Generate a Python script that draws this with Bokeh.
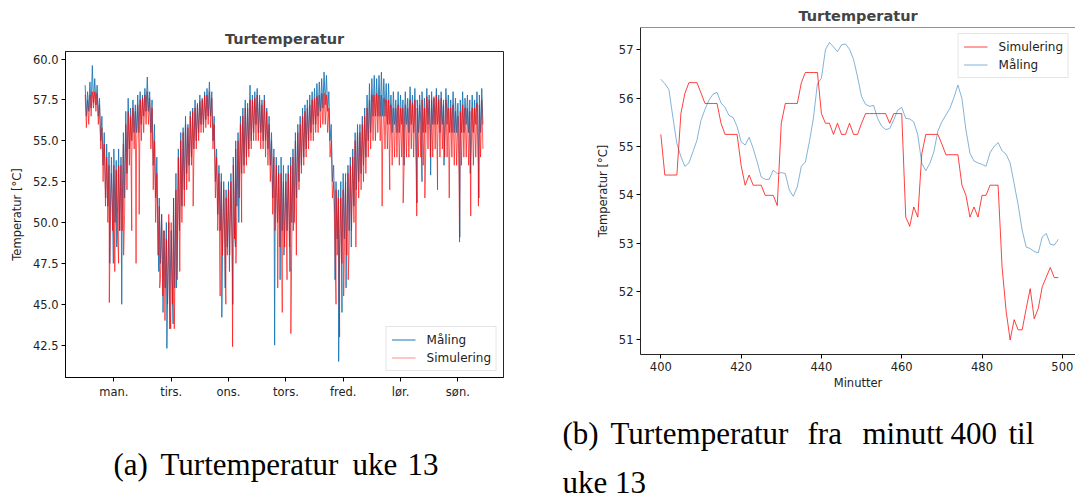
from bokeh.plotting import figure
from bokeh.layouts import column, row
from bokeh.models import Range1d, FixedTicker, Legend, LegendItem, PrintfTickFormatter, Span
from bokeh.core.properties import value
from bokeh.embed import file_html
from bokeh.resources import INLINE

FONT = "DejaVu Sans"
SERIF = "Liberation Serif"
BLUE = "#1f77b4"

# ---------------- (a) week 13: hourly upper / lower edge of the dense band, plus single spikes ----------------
day_ticks = [0.5, 1.5, 2.5, 3.5, 4.5, 5.5, 6.5]
day_labels = ["man.", "tirs.", "ons.", "tors.", "fred.", "lør.", "søn."]
ticks_a = [42.5, 45.0, 47.5, 50.0, 52.5, 55.0, 57.5, 60.0]

meas_hi = [
    58.4, 58.0, 58.6, 59.6, 58.8, 58.4, 57.6, 56.5, 55.5, 54.8, 54.3, 54.0, 54.5, 53.8, 54.5, 54.0, 55.5, 56.8, 57.6, 57.0, 57.5, 57.2, 57.8, 58.0,
    57.8, 58.2, 58.9, 58.0, 57.5, 56.0, 54.0, 51.5, 50.5, 49.5, 50.0, 50.0, 49.5, 51.5, 53.0, 54.5, 55.5, 55.8, 56.5, 56.0, 56.8, 57.0, 57.5, 57.2,
    57.8, 57.6, 58.0, 58.2, 58.6, 58.0, 56.5, 54.5, 53.5, 53.0, 52.5, 52.0, 52.5, 53.0, 54.0, 55.0, 55.5, 56.5, 57.0, 57.5, 57.3, 58.4, 57.8, 58.0,
    58.2, 57.8, 57.5, 57.8, 57.0, 56.5, 55.5, 54.5, 54.0, 53.5, 54.0, 53.5, 53.0, 53.5, 54.0, 54.5, 55.5, 56.0, 56.5, 57.0, 57.2, 57.5, 57.8, 58.0,
    58.2, 58.5, 58.6, 58.8, 59.2, 59.0, 58.0, 56.0, 53.5, 52.5, 52.0, 52.5, 53.0, 53.0, 53.5, 54.0, 54.5, 55.5, 56.0, 56.0, 56.5, 57.0, 57.8, 58.5,
    58.8, 59.0, 58.8, 59.0, 59.2, 58.8, 58.5, 58.5, 57.8, 58.0, 57.5, 58.0, 57.8, 57.5, 58.0, 57.6, 58.3, 57.8, 58.2, 57.5, 57.8, 58.0, 57.6, 58.2,
    57.8, 58.0, 57.6, 58.2, 57.8, 58.0, 57.5, 58.2, 57.8, 57.5, 58.0, 57.6, 57.3, 57.5, 58.0, 57.6, 57.8, 57.5, 57.8, 57.5, 58.0, 57.8, 58.2,
]
meas_lo = [
    56.5, 56.8, 57.0, 57.3, 57.2, 56.5, 55.0, 53.5, 52.0, 51.0, 50.5, 50.5, 50.0, 50.5, 50.5, 50.5, 51.5, 53.0, 54.5, 55.0, 55.5, 55.5, 55.5, 56.0,
    56.5, 56.8, 56.8, 55.5, 53.5, 51.5, 49.0, 47.5, 46.5, 46.0, 45.5, 45.5, 45.5, 46.0, 47.5, 49.5, 51.0, 52.0, 53.0, 53.5, 54.0, 54.5, 55.0, 55.5,
    56.0, 56.0, 56.3, 56.5, 56.5, 55.0, 52.5, 50.5, 49.5, 48.5, 48.5, 48.5, 49.0, 49.0, 49.5, 51.0, 52.0, 53.0, 53.5, 54.0, 54.5, 55.0, 55.5, 56.0,
    55.5, 55.5, 55.0, 55.0, 54.5, 53.5, 51.5, 50.5, 50.0, 49.5, 49.5, 49.5, 49.5, 49.5, 50.0, 50.5, 51.5, 52.5, 53.5, 54.0, 54.5, 55.0, 55.5, 56.0,
    56.0, 56.5, 56.8, 57.0, 57.2, 56.8, 55.0, 52.5, 50.0, 49.0, 48.5, 48.5, 49.0, 49.0, 49.5, 50.5, 51.0, 52.0, 52.5, 53.0, 53.5, 54.0, 55.0, 55.5,
    56.5, 56.5, 56.5, 56.5, 56.5, 56.5, 56.0, 56.0, 55.5, 56.0, 55.5, 55.5, 56.0, 55.5, 56.0, 55.5, 56.0, 55.5, 55.5, 55.5, 56.0, 55.5, 55.5, 56.0,
    55.5, 56.0, 56.0, 56.0, 55.5, 56.0, 55.5, 56.0, 55.5, 55.5, 55.5, 55.5, 55.0, 55.5, 55.5, 56.0, 55.5, 55.5, 55.5, 56.0, 55.5, 55.5, 56.0,
]
meas_spike_t = [8.6, 10.3, 11.8, 13.2, 14.4, 15.3,
                30.8, 32.6, 34.2, 35.4, 36.8, 38.2,
                57.2, 58.6, 60.4, 61.8, 62.9, 64.3,
                79.3, 81.6, 83.2, 85.7, 87.1,
                104.6, 106.1, 107.5, 109.2, 111.4,
                133.5, 138.9, 141.0, 144.6,
                150.2, 156.8, 161.2, 164.8]
meas_spike_v = [51.5, 47.5, 47.5, 48.5, 49.5, 45.0,
                47.0, 44.5, 42.3, 43.5, 43.8, 46.0,
                44.2, 46.0, 47.0, 45.0, 48.5, 50.0,
                42.5, 46.5, 48.0, 47.0, 49.5,
                46.5, 41.5, 44.5, 46.0, 48.5,
                53.5, 51.2, 52.5, 52.9,
                53.5, 49.1, 53.0, 51.5]

sim_hi = [
    57.8, 57.5, 57.8, 58.0, 58.0, 57.9, 57.2, 55.8, 54.8, 54.0, 53.5, 53.0, 53.5, 53.2, 53.5, 53.5, 54.8, 56.0, 56.8, 56.5, 57.0, 56.8, 57.2, 57.5,
    57.6, 57.8, 58.0, 57.6, 57.0, 55.0, 53.0, 51.0, 50.5, 49.5, 49.0, 50.5, 50.0, 51.5, 52.0, 54.0, 55.0, 55.5, 56.0, 55.8, 56.5, 56.8, 57.0, 57.3,
    57.4, 57.5, 57.8, 57.8, 58.0, 57.6, 56.0, 54.0, 53.0, 52.5, 52.0, 51.5, 52.0, 52.5, 53.5, 54.5, 55.0, 56.0, 56.5, 57.0, 57.0, 57.5, 57.5, 57.6,
    57.8, 57.5, 57.2, 57.5, 56.8, 56.0, 55.0, 54.0, 53.5, 53.0, 53.0, 52.5, 52.5, 53.0, 53.5, 54.0, 55.0, 55.5, 56.0, 56.5, 56.8, 57.0, 57.2, 57.5,
    57.6, 57.7, 57.8, 57.9, 57.9, 57.8, 57.0, 55.0, 52.5, 52.0, 51.5, 51.5, 52.0, 52.5, 53.0, 53.5, 54.0, 55.0, 55.5, 55.5, 56.0, 56.5, 57.0, 57.5,
    57.8, 57.8, 57.9, 57.8, 57.8, 57.6, 57.5, 57.5, 57.2, 57.0, 57.0, 57.2, 57.0, 57.0, 57.2, 57.0, 57.5, 57.3, 57.5, 57.0, 57.2, 57.5, 57.0, 57.7,
    57.5, 57.5, 57.7, 57.8, 57.5, 57.6, 57.2, 57.5, 57.0, 57.0, 57.2, 56.8, 56.5, 56.8, 57.2, 57.0, 57.0, 56.8, 57.0, 57.0, 57.3, 57.2, 57.5,
]
sim_lo = [
    55.8, 56.0, 56.5, 57.0, 56.8, 56.0, 54.5, 52.5, 51.0, 50.0, 49.5, 49.5, 49.0, 49.5, 49.5, 49.5, 50.5, 52.0, 53.5, 54.0, 54.5, 54.5, 54.5, 55.0,
    55.5, 56.0, 56.0, 54.5, 52.0, 50.0, 48.0, 46.5, 45.5, 45.0, 45.0, 45.0, 45.0, 45.5, 46.5, 48.5, 50.0, 51.0, 52.0, 52.5, 53.5, 54.0, 54.5, 55.0,
    55.5, 55.5, 55.8, 56.0, 55.8, 54.5, 51.5, 49.5, 48.5, 48.0, 48.0, 48.0, 48.0, 48.5, 49.0, 50.5, 51.5, 52.5, 53.0, 53.5, 54.0, 54.5, 55.0, 55.0,
    55.0, 54.5, 54.5, 54.0, 53.5, 52.5, 50.5, 49.5, 49.0, 48.5, 48.5, 48.5, 48.5, 48.5, 49.0, 50.0, 51.0, 52.0, 53.0, 53.5, 54.0, 54.5, 55.0, 55.0,
    55.5, 55.5, 55.8, 56.0, 56.0, 55.5, 54.0, 51.5, 49.0, 48.0, 47.5, 47.5, 48.0, 48.0, 48.5, 49.5, 50.0, 51.0, 51.5, 52.0, 52.5, 53.0, 54.0, 54.5,
    55.0, 55.0, 55.5, 55.0, 54.5, 54.5, 54.5, 54.0, 53.5, 54.0, 54.0, 53.5, 54.0, 53.5, 54.0, 54.0, 54.5, 54.0, 53.5, 54.0, 54.0, 53.5, 54.0, 54.5,
    54.0, 54.0, 54.5, 54.5, 54.0, 54.5, 54.0, 54.0, 53.5, 54.0, 53.5, 53.5, 53.0, 53.5, 54.0, 54.0, 53.5, 53.5, 53.5, 54.0, 53.5, 54.0, 54.5,
]
sim_spike_t = [10.1, 12.4, 14.0, 16.1, 19.5, 21.3, 22.6,
               31.2, 33.4, 35.8, 37.3, 39.6, 45.2,
               56.5, 58.9, 61.7, 63.1, 65.5,
               80.6, 82.5, 84.5, 86.1, 88.4,
               105.0, 106.5, 108.2, 110.1, 113.3,
               124.3, 127.5, 133.1, 138.8, 142.2,
               147.5, 152.4, 156.7, 161.4, 164.6]
sim_spike_v = [45.1, 47.0, 47.5, 48.0, 49.5, 47.5, 50.5,
               46.0, 44.0, 43.5, 43.5, 47.0, 51.0,
               45.5, 45.0, 42.4, 47.5, 50.0,
               46.0, 44.5, 46.5, 43.2, 48.0,
               45.0, 43.0, 45.5, 46.5, 48.5,
               51.0, 52.0, 51.2, 50.4, 51.5,
               52.0, 51.5, 48.8, 50.4, 51.0]

# ---------------- (b) minutes 400-499 ----------------
minutes = list(range(400, 500))
ticks_b_x = [400, 420, 440, 460, 480, 500]
ticks_b_y = [51, 52, 53, 54, 55, 56, 57]
sim_b = [
    55.25, 54.41, 54.41, 54.41, 54.41, 55.68, 56.10, 56.32, 56.32, 56.32,
    56.11, 55.89, 55.89, 55.89, 55.89, 55.48, 55.25, 55.25, 55.25, 55.25,
    54.61, 54.20, 54.41, 54.20, 54.20, 54.20, 53.99, 53.99, 53.99, 53.78,
    55.48, 55.89, 55.89, 55.89, 55.89, 56.32, 56.53, 56.53, 56.53, 56.53,
    55.68, 55.48, 55.48, 55.25, 55.48, 55.25, 55.25, 55.48, 55.25, 55.25,
    55.48, 55.68, 55.68, 55.68, 55.68, 55.68, 55.68, 55.48, 55.68, 55.68,
    55.68, 53.54, 53.35, 53.75, 53.54, 54.85, 55.25, 55.25, 55.25, 55.25,
    55.05, 54.83, 54.83, 54.83, 54.83, 54.20, 53.99, 53.54, 53.75, 53.54,
    53.99, 53.99, 54.20, 54.20, 54.20, 52.50, 51.60, 51.00, 51.42, 51.21,
    51.21, 51.65, 52.06, 51.44, 51.65, 52.10, 52.30, 52.50, 52.29, 52.29,
]
meas_b = [
    56.39, 56.30, 56.18, 55.61, 55.06, 54.79, 54.59, 54.66, 54.89, 55.13,
    55.54, 55.77, 55.96, 56.08, 56.12, 55.90, 55.81, 55.64, 55.60, 55.41,
    55.10, 55.03, 55.19, 54.96, 54.68, 54.37, 54.32, 54.32, 54.51, 54.44,
    54.46, 54.44, 54.10, 53.97, 54.17, 54.59, 54.68, 55.10, 55.58, 56.30,
    56.41, 57.00, 57.15, 57.06, 56.96, 57.10, 57.12, 57.01, 56.80, 56.44,
    56.03, 55.87, 55.83, 55.85, 55.58, 55.42, 55.35, 55.37, 55.55, 55.75,
    55.81, 55.58, 55.57, 55.51, 55.24, 54.65, 54.50, 54.65, 54.89, 55.32,
    55.51, 55.65, 55.79, 56.01, 56.27, 55.99, 55.34, 54.86, 54.70, 54.66,
    54.63, 54.59, 54.87, 55.00, 55.08, 54.91, 54.84, 54.66, 54.23, 53.79,
    53.27, 52.92, 52.89, 52.83, 52.80, 53.13, 53.20, 52.98, 52.96, 53.08,
]

cap_a_words = ["(a)", "Turtemperatur", "uke", "13"]
cap_b_words = ["(b)", "Turtemperatur", "fra", "minutt", "400", "til"]
cap_b_line2 = "uke 13"


def band_series(hi, lo, spike_t, spike_v):
    pts = []
    for h in range(len(hi)):
        pts.append((h / 24.0, hi[h]))
        pts.append(((h + 0.5) / 24.0, lo[h]))
    for t, v in zip(spike_t, spike_v):
        pts.append((t / 24.0, v))
    pts.sort()
    return [p[0] for p in pts], [p[1] for p in pts]


def style(p):
    p.xgrid.grid_line_color = None
    p.ygrid.grid_line_color = None
    p.outline_line_color = "black"
    p.outline_line_alpha = 0.85
    p.outline_line_width = 1
    p.background_fill_color = "white"
    p.border_fill_color = "white"
    for ax in p.axis:
        ax.axis_line_color = "black"
        ax.axis_line_alpha = 0.85
        ax.major_tick_line_color = "black"
        ax.major_tick_out = 4
        ax.major_tick_in = 0
        ax.minor_tick_line_color = None
        ax.major_label_text_font = FONT
        ax.major_label_text_font_size = "11.5px"
        ax.major_label_text_color = "#222222"
        ax.major_label_standoff = 3
        ax.axis_label_text_font = FONT
        ax.axis_label_text_font_size = "11.5px"
        ax.axis_label_text_font_style = "normal"
        ax.axis_label_text_color = "#222222"
        ax.axis_label_standoff = 6
    p.title.text_font = FONT
    p.title.text_font_size = "14.5px"
    p.title.text_font_style = "bold"
    p.title.align = "center"


def style_legend(leg):
    leg.label_text_font = FONT
    leg.label_text_font_size = "12px"
    leg.label_text_color = "#222222"
    leg.border_line_color = "#cccccc"
    leg.border_line_width = 1
    leg.background_fill_alpha = 0.85
    leg.padding = 5
    leg.spacing = 3
    leg.margin = 6
    leg.glyph_width = 24
    leg.glyph_height = 15
    leg.label_height = 15
    leg.label_standoff = 11


# ---------------- figure (a) ----------------
pa = figure(width=570, height=410, output_backend="svg", toolbar_location=None,
            x_range=Range1d(-0.343, 7.296), y_range=Range1d(40.52, 60.46),
            min_border_left=65, min_border_right=67, min_border_top=51, min_border_bottom=33,
            title="Turtemperatur")
xm, ym = band_series(meas_hi, meas_lo, meas_spike_t, meas_spike_v)
xs, ys = band_series(sim_hi, sim_lo, sim_spike_t, sim_spike_v)
pa.line(xm, ym, line_color=BLUE, line_width=0.9)
pa.line(xs, ys, line_color="red", line_alpha=0.7, line_width=0.9)
# legend-only renderers (outside the visible range)
proxy_m = pa.line([-9, -8], [0, 0], line_color=BLUE, line_width=1)
proxy_s = pa.line([-9, -8], [0, 0], line_color="red", line_alpha=0.3, line_width=1.5)
pa.xaxis.ticker = FixedTicker(ticks=day_ticks)
pa.xaxis.major_label_overrides = {t: l for t, l in zip(day_ticks, day_labels)}
pa.yaxis.ticker = FixedTicker(ticks=ticks_a)
pa.yaxis.formatter = PrintfTickFormatter(format="%.1f")
pa.yaxis.axis_label = "Temperatur [°C]"
style(pa)
pa.title.standoff = 9
leg_a = Legend(items=[LegendItem(label="Måling", renderers=[proxy_m]),
                      LegendItem(label="Simulering", renderers=[proxy_s])],
               location="bottom_right")
style_legend(leg_a)
pa.add_layout(leg_a)

# ---------------- figure (b) ----------------
yb = Range1d(50.70, 57.46)
pb = figure(width=505, height=410, output_backend="svg", toolbar_location=None,
            x_range=Range1d(394.94, 503.28), y_range=yb,
            min_border_left=70, min_border_right=0, min_border_top=27, min_border_bottom=56,
            title="Turtemperatur")
r_sim = pb.line(minutes, sim_b, line_color="red", line_alpha=0.75, line_width=1)
r_meas = pb.line(minutes, meas_b, line_color=BLUE, line_alpha=0.55, line_width=1)
pb.xaxis.ticker = FixedTicker(ticks=ticks_b_x)
pb.yaxis.ticker = FixedTicker(ticks=ticks_b_y)
pb.xaxis.axis_label = "Minutter"
pb.yaxis.axis_label = "Temperatur [°C]"
style(pb)
pb.outline_line_color = None
pb.add_layout(Span(location=yb.end, dimension="width", line_color="black", line_alpha=0.85, line_width=1))
pb.xaxis.axis_label_standoff = 2
pb.title.standoff = 8
leg_b = Legend(items=[LegendItem(label="Simulering", renderers=[r_sim]),
                      LegendItem(label="Måling", renderers=[r_meas])],
               location="top_right")
style_legend(leg_b)
pb.add_layout(leg_b)

# ---------------- captions ----------------
pc = figure(width=1075, height=90, output_backend="svg", toolbar_location=None,
            x_range=Range1d(0, 1075), y_range=Range1d(500, 410),
            min_border_left=0, min_border_right=0, min_border_top=0, min_border_bottom=0,
            x_axis_location=None, y_axis_location=None)
pc.xgrid.grid_line_color = None
pc.ygrid.grid_line_color = None
pc.outline_line_color = None
CAP = dict(text_font=value(SERIF), text_font_size="31px", text_baseline="alphabetic",
           text_align="left", text_color="black")
pc.text(x=[113, 160, 352, 407], y=[464] * 4, text=cap_a_words, **CAP)
pc.text(x=[562, 610, 807, 862, 950, 1008], y=[433] * 6, text=cap_b_words, **CAP)
pc.text(x=[562], y=[482], text=[cap_b_line2], **CAP)

layout = column(row(column(pa), column(pb), spacing=0), pc, spacing=0)
open("out.html", "w").write(file_html(layout, INLINE))
